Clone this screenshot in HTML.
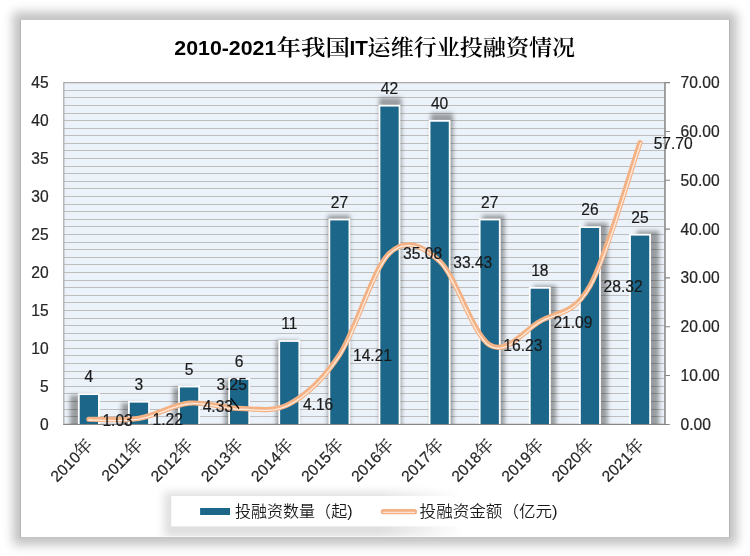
<!DOCTYPE html>
<html lang="zh-CN">
<head>
<meta charset="utf-8">
<title>2010-2021年我国IT运维行业投融资情况</title>
<style>
html,body{margin:0;padding:0;background:#fff;}
body{width:750px;height:556px;overflow:hidden;position:relative;font-family:'Liberation Sans', 'Noto Sans CJK SC', sans-serif;}
#card{position:absolute;left:20px;top:19px;width:708px;height:516.5px;background:#fff;border:1px solid #b4b4b4;border-top-color:#c8c8c8;border-bottom-color:#c4c4c4;box-shadow:0 0 10px 7px rgba(0,0,0,0.245);}
svg{position:absolute;left:0;top:0;}
text{font-family:'Liberation Sans', 'Noto Sans CJK SC', sans-serif;fill:#262626;}
.ax{font-size:15.6px;stroke:#262626;stroke-width:0.22px;}
.dl{font-size:15.6px;fill:#1a1a1a;stroke:#1a1a1a;stroke-width:0.18px;}
</style>
</head>
<body>
<div id="card"></div>
<svg width="750" height="556" viewBox="0 0 750 556">
<defs>
<filter id="bsh" x="-10%" y="-10%" width="120%" height="120%"><feGaussianBlur stdDeviation="2.0"/></filter>
<filter id="lsh" x="-20%" y="-80%" width="140%" height="260%"><feGaussianBlur stdDeviation="5"/></filter>
<linearGradient id="lg" gradientUnits="userSpaceOnUse" x1="164" y1="0" x2="464" y2="0"><stop offset="0" stop-color="#000"/><stop offset="0.72" stop-color="#000"/><stop offset="1" stop-color="#000" stop-opacity="0"/></linearGradient>
<clipPath id="pc"><rect x="63.8" y="82.66" width="601.3000000000001" height="341.64"/></clipPath>
</defs>

<text x="174.3" y="55.0" font-size="20.8" style="font-weight:bold;fill:#000" textLength="102" lengthAdjust="spacingAndGlyphs">2010-2021</text>
<text x="276.6" y="55.3" font-size="21.8" style="font-family:'Liberation Sans', 'Noto Serif CJK SC', serif;font-weight:600;fill:#000" textLength="73.5" lengthAdjust="spacingAndGlyphs">年我国</text>
<text x="349.5" y="55.0" font-size="20.8" style="font-weight:bold;fill:#000" textLength="18.4" lengthAdjust="spacingAndGlyphs">IT</text>
<text x="367.6" y="55.3" font-size="21.8" style="font-family:'Liberation Sans', 'Noto Serif CJK SC', serif;font-weight:600;fill:#000" textLength="207.5" lengthAdjust="spacingAndGlyphs">运维行业投融资情况</text>
<rect x="63.8" y="82.66" width="601.30" height="341.64" fill="#ebf2f9"/>
<path d="M63.8 416.5H665.1M63.8 409.5H665.1M63.8 401.5H665.1M63.8 393.5H665.1M63.8 386.5H665.1M63.8 378.5H665.1M63.8 371.5H665.1M63.8 363.5H665.1M63.8 355.5H665.1M63.8 348.5H665.1M63.8 340.5H665.1M63.8 333.5H665.1M63.8 325.5H665.1M63.8 318.5H665.1M63.8 310.5H665.1M63.8 302.5H665.1M63.8 295.5H665.1M63.8 287.5H665.1M63.8 280.5H665.1M63.8 272.5H665.1M63.8 264.5H665.1M63.8 257.5H665.1M63.8 249.5H665.1M63.8 242.5H665.1M63.8 234.5H665.1M63.8 226.5H665.1M63.8 219.5H665.1M63.8 211.5H665.1M63.8 204.5H665.1M63.8 196.5H665.1M63.8 188.5H665.1M63.8 181.5H665.1M63.8 173.5H665.1M63.8 166.5H665.1M63.8 158.5H665.1M63.8 150.5H665.1M63.8 143.5H665.1M63.8 135.5H665.1M63.8 128.5H665.1M63.8 120.5H665.1M63.8 113.5H665.1M63.8 105.5H665.1M63.8 97.5H665.1M63.8 90.5H665.1" stroke="#bebebe" stroke-width="1" fill="none"/>
<rect x="63.8" y="82.66" width="601.30" height="341.64" fill="none" stroke="#adadad" stroke-width="1.3"/>
<g clip-path="url(#pc)"><g filter="url(#bsh)" opacity="0.35" transform="translate(360.00,331.0) scale(1.028,1.031) translate(-360.00,-331.0)">
<rect x="77.90" y="393.23" width="21.90" height="41.07" fill="#000"/>
<rect x="128.01" y="400.82" width="21.90" height="33.48" fill="#000"/>
<rect x="178.12" y="385.64" width="21.90" height="48.66" fill="#000"/>
<rect x="228.23" y="378.05" width="21.90" height="56.25" fill="#000"/>
<rect x="278.34" y="340.09" width="21.90" height="94.21" fill="#000"/>
<rect x="328.45" y="218.62" width="21.90" height="215.68" fill="#000"/>
<rect x="378.55" y="104.74" width="21.90" height="329.56" fill="#000"/>
<rect x="428.66" y="119.92" width="21.90" height="314.38" fill="#000"/>
<rect x="478.77" y="218.62" width="21.90" height="215.68" fill="#000"/>
<rect x="528.88" y="286.94" width="21.90" height="147.36" fill="#000"/>
<rect x="578.99" y="226.21" width="21.90" height="208.09" fill="#000"/>
<rect x="629.10" y="233.80" width="21.90" height="200.50" fill="#000"/>
</g></g>
<rect x="78.80" y="394.13" width="20.10" height="33.17" fill="#1b6689" stroke="#fff" stroke-width="1.8" clip-path="url(#pc)"/>
<rect x="128.91" y="401.72" width="20.10" height="25.58" fill="#1b6689" stroke="#fff" stroke-width="1.8" clip-path="url(#pc)"/>
<rect x="179.02" y="386.54" width="20.10" height="40.76" fill="#1b6689" stroke="#fff" stroke-width="1.8" clip-path="url(#pc)"/>
<rect x="229.13" y="378.95" width="20.10" height="48.35" fill="#1b6689" stroke="#fff" stroke-width="1.8" clip-path="url(#pc)"/>
<rect x="279.24" y="340.99" width="20.10" height="86.31" fill="#1b6689" stroke="#fff" stroke-width="1.8" clip-path="url(#pc)"/>
<rect x="329.35" y="219.52" width="20.10" height="207.78" fill="#1b6689" stroke="#fff" stroke-width="1.8" clip-path="url(#pc)"/>
<rect x="379.45" y="105.64" width="20.10" height="321.66" fill="#1b6689" stroke="#fff" stroke-width="1.8" clip-path="url(#pc)"/>
<rect x="429.56" y="120.82" width="20.10" height="306.48" fill="#1b6689" stroke="#fff" stroke-width="1.8" clip-path="url(#pc)"/>
<rect x="479.67" y="219.52" width="20.10" height="207.78" fill="#1b6689" stroke="#fff" stroke-width="1.8" clip-path="url(#pc)"/>
<rect x="529.78" y="287.84" width="20.10" height="139.46" fill="#1b6689" stroke="#fff" stroke-width="1.8" clip-path="url(#pc)"/>
<rect x="579.89" y="227.11" width="20.10" height="200.19" fill="#1b6689" stroke="#fff" stroke-width="1.8" clip-path="url(#pc)"/>
<rect x="630.00" y="234.70" width="20.10" height="192.60" fill="#1b6689" stroke="#fff" stroke-width="1.8" clip-path="url(#pc)"/>
<path d="M63.3 424.5H669.8000000000001" stroke="#868686" stroke-width="1.2" fill="none"/>
<path d="M664.9 82.06V425.0M665.1 375.49h4.9M665.1 326.69h4.9M665.1 277.88h4.9M665.1 229.08h4.9M665.1 180.27h4.9M665.1 131.47h4.9M665.1 82.66h4.9" stroke="#868686" stroke-width="1.1" fill="none"/>
<path d="M88.85 419.27C97.21 419.12 122.26 421.03 138.96 418.35C155.67 415.66 172.37 404.82 189.07 403.17C205.77 401.52 222.48 408.30 239.18 408.44C255.88 408.58 272.58 412.91 289.29 404.00C305.99 395.08 322.69 380.10 339.40 354.95C356.10 329.80 372.80 268.72 389.50 253.09C406.21 237.46 422.91 245.81 439.61 261.14C456.32 276.48 473.02 335.05 489.72 345.09C506.42 355.13 523.13 331.20 539.83 321.37C556.53 311.53 573.23 315.86 589.94 286.08C606.64 256.30 631.69 166.59 640.05 142.69" fill="none" stroke="#f4b183" stroke-width="5.2" stroke-linecap="round" stroke-linejoin="round"/>
<path d="M88.87 420.02L89.98 420.01L91.27 420.02L92.70 420.05L94.29 420.09L96.00 420.13L97.84 420.19L99.78 420.25L101.82 420.31L103.95 420.37L106.16 420.42L108.44 420.47L110.77 420.51L113.14 420.53L115.55 420.54L117.98 420.53L120.42 420.49L122.86 420.44L125.29 420.35L127.70 420.23L130.08 420.08L132.42 419.90L134.71 419.67L136.93 419.40L139.08 419.09L141.20 418.70L143.31 418.24L145.42 417.72L147.53 417.12L149.63 416.48L151.73 415.78L153.83 415.05L155.93 414.29L158.02 413.50L160.11 412.70L162.20 411.88L164.29 411.07L166.37 410.26L168.46 409.47L170.54 408.69L172.62 407.95L174.69 407.24L176.77 406.57L178.84 405.96L180.90 405.41L182.97 404.92L185.03 404.50L187.09 404.16L189.14 403.91L191.20 403.75L193.26 403.67L195.32 403.66L197.39 403.72L199.46 403.85L201.53 404.02L203.60 404.25L205.67 404.51L207.75 404.81L209.83 405.15L211.91 405.50L213.99 405.87L216.08 406.25L218.17 406.63L220.26 407.01L222.35 407.38L224.44 407.74L226.54 408.07L228.64 408.37L230.74 408.63L232.85 408.85L234.95 409.02L237.06 409.14L239.17 409.19L241.25 409.23L243.32 409.30L245.40 409.40L247.48 409.52L249.57 409.66L251.65 409.80L253.74 409.95L255.84 410.08L257.93 410.19L260.03 410.28L262.13 410.34L264.23 410.36L266.34 410.33L268.45 410.25L270.56 410.10L272.67 409.89L274.79 409.59L276.91 409.21L279.03 408.73L281.15 408.15L283.27 407.46L285.40 406.65L287.52 405.72L289.64 404.66L291.74 403.50L293.85 402.28L295.95 401.00L298.05 399.64L300.16 398.21L302.26 396.71L304.36 395.14L306.46 393.49L308.56 391.77L310.66 389.96L312.76 388.07L314.86 386.10L316.96 384.05L319.06 381.91L321.16 379.68L323.25 377.36L325.35 374.95L327.45 372.44L329.54 369.85L331.64 367.15L333.74 364.36L335.83 361.46L337.93 358.46L340.02 355.36L342.13 352.01L344.23 348.32L346.33 344.33L348.42 340.08L350.52 335.60L352.61 330.92L354.70 326.09L356.79 321.12L358.88 316.07L360.97 310.97L363.06 305.84L365.14 300.73L367.23 295.68L369.32 290.71L371.40 285.86L373.48 281.17L375.57 276.67L377.65 272.40L379.73 268.40L381.80 264.70L383.87 261.33L385.93 258.34L387.98 255.77L390.02 253.64L392.07 251.84L394.11 250.28L396.15 248.96L398.18 247.87L400.21 246.99L402.23 246.32L404.26 245.85L406.28 245.57L408.30 245.47L410.32 245.56L412.35 245.81L414.38 246.23L416.42 246.81L418.46 247.54L420.51 248.42L422.56 249.43L424.62 250.58L426.68 251.85L428.74 253.24L430.81 254.74L432.88 256.34L434.95 258.04L437.03 259.83L439.11 261.69L441.14 263.78L443.19 266.28L445.25 269.16L447.32 272.38L449.40 275.90L451.48 279.67L453.56 283.66L455.64 287.82L457.73 292.12L459.81 296.51L461.90 300.96L463.99 305.42L466.08 309.86L468.17 314.23L470.26 318.49L472.35 322.62L474.45 326.56L476.55 330.27L478.65 333.73L480.76 336.88L482.87 339.70L485.00 342.14L487.15 344.16L489.33 345.73L491.51 346.86L493.69 347.64L495.88 348.10L498.07 348.25L500.25 348.12L502.42 347.73L504.58 347.11L506.72 346.27L508.86 345.25L510.98 344.07L513.10 342.74L515.21 341.29L517.32 339.74L519.42 338.11L521.51 336.42L523.61 334.70L525.70 332.95L527.78 331.21L529.86 329.50L531.94 327.83L534.02 326.22L536.09 324.70L538.15 323.30L540.21 322.02L542.26 320.87L544.32 319.86L546.38 318.94L548.45 318.11L550.52 317.34L552.60 316.60L554.69 315.89L556.78 315.18L558.87 314.44L560.98 313.66L563.09 312.82L565.20 311.89L567.32 310.85L569.44 309.68L571.56 308.37L573.68 306.88L575.80 305.21L577.92 303.32L580.04 301.21L582.16 298.84L584.27 296.20L586.38 293.27L588.49 290.02L590.59 286.45L592.74 282.39L594.95 277.78L597.23 272.65L599.56 267.06L601.94 261.07L604.34 254.74L606.77 248.10L609.20 241.23L611.64 234.17L614.06 226.98L616.47 219.71L618.84 212.41L621.16 205.15L623.43 197.97L625.64 190.93L627.77 184.09L629.81 177.50L631.76 171.21L633.59 165.28L635.31 159.77L636.90 154.72L638.34 150.19L639.63 146.25L640.75 142.94" fill="none" stroke="#fdeadd" stroke-width="1.3" stroke-linecap="round" stroke-linejoin="round"/>
<path d="M230.9 398.4L239 408.7" stroke="#000" stroke-width="1.3" fill="none"/>
<text class="ax" x="48.6" y="429.75" text-anchor="end">0</text>
<text class="ax" x="48.6" y="391.79" text-anchor="end">5</text>
<text class="ax" x="48.6" y="353.83" text-anchor="end">10</text>
<text class="ax" x="48.6" y="315.87" text-anchor="end">15</text>
<text class="ax" x="48.6" y="277.91" text-anchor="end">20</text>
<text class="ax" x="48.6" y="239.95" text-anchor="end">25</text>
<text class="ax" x="48.6" y="201.99" text-anchor="end">30</text>
<text class="ax" x="48.6" y="164.03" text-anchor="end">35</text>
<text class="ax" x="48.6" y="126.07" text-anchor="end">40</text>
<text class="ax" x="48.6" y="88.11" text-anchor="end">45</text>
<text class="ax" x="680.6" y="429.75">0.00</text>
<text class="ax" x="680.6" y="380.94">10.00</text>
<text class="ax" x="680.6" y="332.14">20.00</text>
<text class="ax" x="680.6" y="283.33">30.00</text>
<text class="ax" x="680.6" y="234.53">40.00</text>
<text class="ax" x="680.6" y="185.72">50.00</text>
<text class="ax" x="680.6" y="136.92">60.00</text>
<text class="ax" x="680.6" y="88.11">70.00</text>
<text class="dl" x="88.85" y="382.33" text-anchor="middle">4</text>
<text class="dl" x="138.96" y="389.92" text-anchor="middle">3</text>
<text class="dl" x="189.07" y="374.74" text-anchor="middle">5</text>
<text class="dl" x="239.18" y="367.15" text-anchor="middle">6</text>
<text class="dl" x="289.29" y="329.19" text-anchor="middle">11</text>
<text class="dl" x="339.40" y="207.72" text-anchor="middle">27</text>
<text class="dl" x="389.50" y="93.84" text-anchor="middle">42</text>
<text class="dl" x="439.61" y="109.02" text-anchor="middle">40</text>
<text class="dl" x="489.72" y="207.72" text-anchor="middle">27</text>
<text class="dl" x="539.83" y="276.04" text-anchor="middle">18</text>
<text class="dl" x="589.94" y="215.31" text-anchor="middle">26</text>
<text class="dl" x="640.05" y="222.90" text-anchor="middle">25</text>
<text class="dl" x="102.45" y="425.67">1.03</text>
<text class="dl" x="152.56" y="424.75">1.22</text>
<text class="dl" x="202.67" y="411.57">4.33</text>
<text class="dl" x="216.60" y="390.40">3.25</text>
<text class="dl" x="302.89" y="410.40">4.16</text>
<text class="dl" x="353.00" y="361.35">14.21</text>
<text class="dl" x="403.10" y="259.49">35.08</text>
<text class="dl" x="453.21" y="267.54">33.43</text>
<text class="dl" x="503.32" y="351.49">16.23</text>
<text class="dl" x="553.43" y="327.77">21.09</text>
<text class="dl" x="603.54" y="292.48">28.32</text>
<text class="dl" x="653.65" y="149.09">57.70</text>
<text class="ax" transform="translate(93.85,446.00) rotate(-45)" text-anchor="end" style="font-family:'Liberation Sans', 'Noto Serif CJK SC', serif">2010<tspan font-size="17.3">年</tspan></text>
<text class="ax" transform="translate(143.96,446.00) rotate(-45)" text-anchor="end" style="font-family:'Liberation Sans', 'Noto Serif CJK SC', serif">2011<tspan font-size="17.3">年</tspan></text>
<text class="ax" transform="translate(194.07,446.00) rotate(-45)" text-anchor="end" style="font-family:'Liberation Sans', 'Noto Serif CJK SC', serif">2012<tspan font-size="17.3">年</tspan></text>
<text class="ax" transform="translate(244.18,446.00) rotate(-45)" text-anchor="end" style="font-family:'Liberation Sans', 'Noto Serif CJK SC', serif">2013<tspan font-size="17.3">年</tspan></text>
<text class="ax" transform="translate(294.29,446.00) rotate(-45)" text-anchor="end" style="font-family:'Liberation Sans', 'Noto Serif CJK SC', serif">2014<tspan font-size="17.3">年</tspan></text>
<text class="ax" transform="translate(344.40,446.00) rotate(-45)" text-anchor="end" style="font-family:'Liberation Sans', 'Noto Serif CJK SC', serif">2015<tspan font-size="17.3">年</tspan></text>
<text class="ax" transform="translate(394.50,446.00) rotate(-45)" text-anchor="end" style="font-family:'Liberation Sans', 'Noto Serif CJK SC', serif">2016<tspan font-size="17.3">年</tspan></text>
<text class="ax" transform="translate(444.61,446.00) rotate(-45)" text-anchor="end" style="font-family:'Liberation Sans', 'Noto Serif CJK SC', serif">2017<tspan font-size="17.3">年</tspan></text>
<text class="ax" transform="translate(494.72,446.00) rotate(-45)" text-anchor="end" style="font-family:'Liberation Sans', 'Noto Serif CJK SC', serif">2018<tspan font-size="17.3">年</tspan></text>
<text class="ax" transform="translate(544.83,446.00) rotate(-45)" text-anchor="end" style="font-family:'Liberation Sans', 'Noto Serif CJK SC', serif">2019<tspan font-size="17.3">年</tspan></text>
<text class="ax" transform="translate(594.94,446.00) rotate(-45)" text-anchor="end" style="font-family:'Liberation Sans', 'Noto Serif CJK SC', serif">2020<tspan font-size="17.3">年</tspan></text>
<text class="ax" transform="translate(645.05,446.00) rotate(-45)" text-anchor="end" style="font-family:'Liberation Sans', 'Noto Serif CJK SC', serif">2021<tspan font-size="17.3">年</tspan></text>
<clipPath id="cc"><rect x="21" y="20" width="708" height="516.5"/></clipPath>
<g clip-path="url(#cc)"><rect x="164" y="492" width="300" height="46" fill="url(#lg)" opacity="0.125" filter="url(#lsh)"/></g>
<rect x="171.2" y="496" width="404" height="30.4" fill="#fff"/>
<rect x="200.1" y="508" width="29.9" height="7" fill="#1b6689"/>
<text x="235" y="517.3" font-size="16" style="font-weight:350;fill:#1a1a1a" textLength="117.5" lengthAdjust="spacingAndGlyphs">投融资数量（起)</text>
<path d="M383.4 511.7H414.5" stroke="#f4b183" stroke-width="5.2" stroke-linecap="round"/>
<path d="M383.4 512.4H414.5" stroke="#fce3d3" stroke-width="1.3" stroke-linecap="round"/>
<text x="419.6" y="517.3" font-size="16" style="font-weight:350;fill:#1a1a1a" textLength="138" lengthAdjust="spacingAndGlyphs">投融资金额（亿元)</text>
</svg>
</body>
</html>
